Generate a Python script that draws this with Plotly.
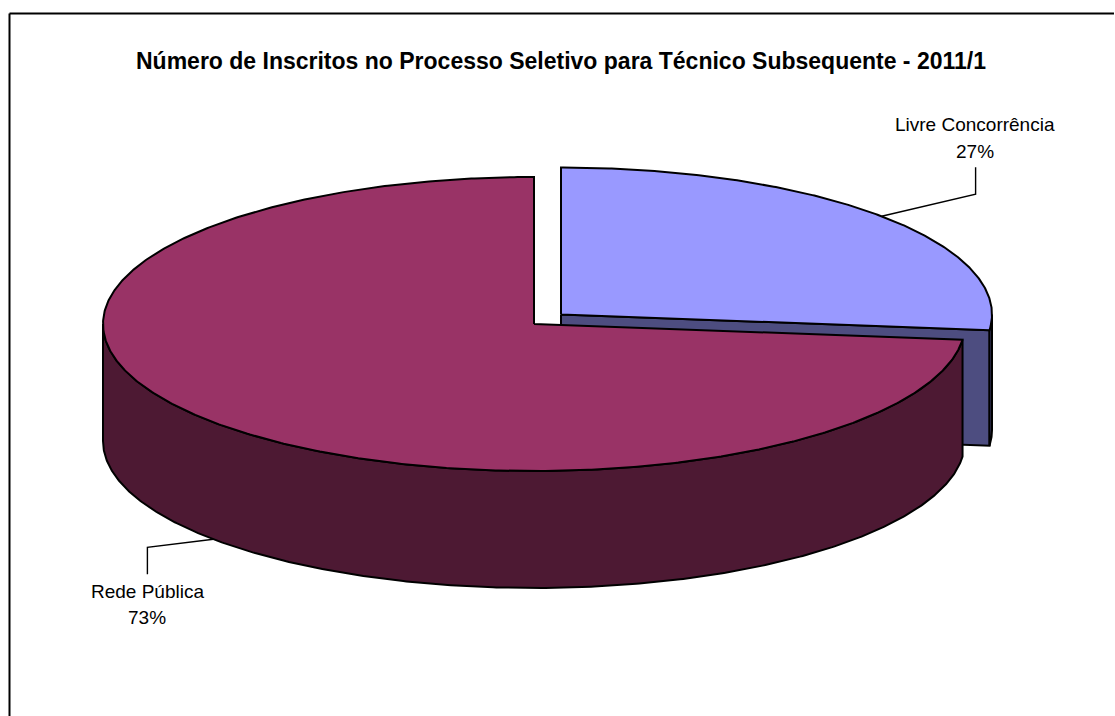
import numpy as np
import plotly.graph_objects as go

# ---- data ----
categories = ["Livre Concorrência", "Rede Pública"]
values = [26.7, 73.3]
title_text = "Número de Inscritos no Processo Seletivo para Técnico Subsequente - 2011/1"

# ---- style ----
top_colors = ["#9999FF", "#993366"]
side_colors = ["#4D4D80", "#4D1933"]
W, H = 1115, 716
RX, RY = 431, 147
depths = [115.5, 117]
centers = [(561, 314.5), (534, 324)]
FONT = "Liberation Sans, Arial, sans-serif"
EDGE = dict(color="black", width=2)

fractions = np.array(values) / sum(values)
starts = np.concatenate([[0], np.cumsum(fractions)[:-1]]) * 2 * np.pi
ends = np.cumsum(fractions) * 2 * np.pi


def ellipse(c, t):
    return c[0] + RX * np.sin(t), c[1] - RY * np.cos(t)


def poly(x, y, color):
    return go.Scatter(x=np.round(x, 2), y=np.round(y, 2), mode="lines", fill="toself",
                      fillcolor=color, line=EDGE, hoverinfo="skip", showlegend=False)


def wall(c, t, depth, color):
    """Outer curved wall for the angle run t, extruded downwards."""
    x, y = ellipse(c, t)
    return poly(np.r_[x, x[::-1], x[0]], np.r_[y, y[::-1] + depth, y[0]], color)


def top(c, t, color):
    x, y = ellipse(c, t)
    return poly(np.r_[c[0], x, c[0]], np.r_[c[1], y, c[1]], color)


fig = go.Figure()

# first slice (back right): cut face, sliver of outer wall, top
c, d = centers[0], depths[0]
ex, ey = ellipse(c, ends[0])
fig.add_trace(poly(np.array([c[0], ex, ex, c[0], c[0]]),
                   np.array([c[1], ey, ey + d, c[1] + d, c[1]]), side_colors[0]))
fig.add_trace(wall(c, np.linspace(np.pi / 2, ends[0], 30), d, side_colors[0]))
fig.add_trace(top(c, np.linspace(starts[0], ends[0], 300), top_colors[0]))

# second slice (front): outer wall down to the left extreme, then top
c, d = centers[1], depths[1]
fig.add_trace(wall(c, np.linspace(starts[1], 1.5 * np.pi, 400), d, side_colors[1]))
fig.add_trace(top(c, np.linspace(starts[1], ends[1], 600), top_colors[1]))

# leader lines start at the middle angle of each slice
elbows = [[(94, -22), (94, -49)], [(-66, 8), (-66, 35)]]
name_offsets = [(-1, -43), (0, 17)]
pct_offsets = [(-1, -16), (0, 43)]
annotations = []
label_font = dict(family=FONT, size=19, color="black")
for i, name in enumerate(categories):
    mid = (starts[i] + ends[i]) / 2
    x0, y0 = ellipse(centers[i], mid)
    if np.cos(mid) < 0:
        y0 += depths[i]
    pts = [(x0, y0)] + [(x0 + dx, y0 + dy) for dx, dy in elbows[i]]
    fig.add_trace(go.Scatter(x=[round(p[0], 2) for p in pts], y=[round(p[1], 2) for p in pts],
                             mode="lines", line=dict(color="black", width=1.4),
                             hoverinfo="skip", showlegend=False))
    ex_, ey_ = pts[-1]
    annotations.append(dict(x=ex_ + name_offsets[i][0], y=ey_ + name_offsets[i][1],
                            xref="x", yref="y", showarrow=False, text=name, font=label_font))
    annotations.append(dict(x=ex_ + pct_offsets[i][0], y=ey_ + pct_offsets[i][1],
                            xref="x", yref="y", showarrow=False,
                            text=f"{round(values[i])}%", font=label_font))

# chart-area frame: only top and left edges fall inside the picture
fig.add_shape(type="line", x0=9.5, x1=1114, y0=13.5, y1=13.5, line=dict(color="black", width=2))
fig.add_shape(type="line", x0=9.5, x1=9.5, y0=13.5, y1=716, line=dict(color="black", width=2))

fig.update_layout(
    width=W, height=H, margin=dict(l=0, r=0, t=0, b=0),
    paper_bgcolor="white", plot_bgcolor="white", showlegend=False,
    title=dict(text=f"<b>{title_text}</b>", x=561 / W, xanchor="center",
               y=1 - 61 / H, yanchor="middle",
               font=dict(family=FONT, size=23, color="black")),
    xaxis=dict(range=[0, W], visible=False, fixedrange=True),
    yaxis=dict(range=[H, 0], visible=False, fixedrange=True),
    annotations=annotations,
)

fig.write_html("out.html", config={"displayModeBar": False},
               post_script="document.body.style.margin='0';document.body.style.overflow='hidden';")
